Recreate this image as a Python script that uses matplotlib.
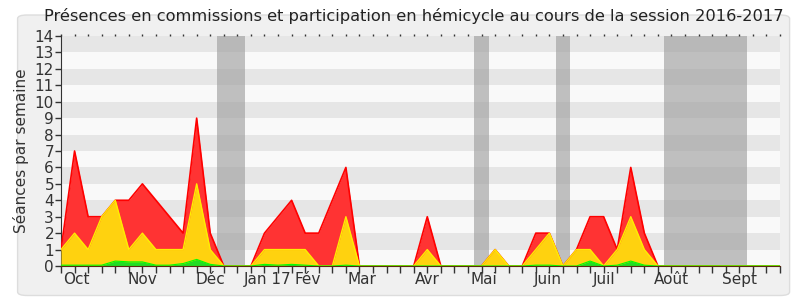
import matplotlib
matplotlib.use("Agg")
import matplotlib.pyplot as plt
from matplotlib.patches import FancyBboxPatch
import numpy as np

# week index 0..53
weeks = list(range(54))
total = [1, 7, 3, 3, 4, 4, 5, 4, 3, 2, 9, 2, 0, 0, 0, 2, 3, 4, 2, 2, 4, 6, 0, 0, 0, 0, 0, 3, 0, 0,
         0, 0, 1, 0, 0, 2, 2, 0, 1, 3, 3, 1, 6, 2, 0, 0, 0, 0, 0, 0, 0, 0, 0, 0]
hemicycle = [1, 2, 1, 3, 4, 1, 2, 1, 1, 1, 5, 1, 0, 0, 0, 1, 1, 1, 1, 0, 0, 3, 0, 0, 0, 0, 0, 1, 0, 0,
             0, 0, 1, 0, 0, 1, 2, 0, 1, 1, 0, 1, 3, 1, 0, 0, 0, 0, 0, 0, 0, 0, 0, 0]
commissions = [0.05, 0.05, 0.05, 0.05, 0.3, 0.25, 0.25, 0.05, 0.05, 0.15, 0.4, 0.1, 0, 0, 0, 0.1, 0.05, 0.1,
               0.05, 0, 0, 0.05, 0, 0, 0, 0, 0, 0, 0, 0, 0, 0, 0, 0, 0, 0.05, 0.05, 0, 0, 0.3, 0, 0.05, 0.3, 0.05,
               0, 0, 0, 0, 0, 0, 0, 0, 0, 0]
vacations = [(11.5, 13.57), (30.46, 31.56), (36.5, 37.54), (44.47, 50.6)]
month_pos = [1.1, 6, 11, 15.2, 18.2, 22.2, 27, 31.2, 35.9, 40, 45, 50]
month_labels = ["Oct", "Nov", "Déc", "Jan 17", "Fév", "Mar", "Avr", "Mai", "Juin", "Juil", "Août", "Sept"]
title = "Présences en commissions et participation en hémicycle au cours de la session 2016-2017"

fig = plt.figure(figsize=(8, 3), dpi=100, facecolor="white")
bg = FancyBboxPatch((0.022, 0.015), 0.965, 0.935, boxstyle="round,pad=0,rounding_size=0.012",
                    transform=fig.transFigure, facecolor="#f0f0f0", edgecolor="#dddddd", lw=1, zorder=-10)
fig.patches.append(bg)

ax = fig.add_axes([61/800, 34/300, 719/800, 230/300])
ax.set_zorder(5)
ax.set_facecolor("#f9f9f9")
ax.set_xlim(0, 53)
ax.set_ylim(0, 14)

for k in range(1, 14, 2):
    ax.axhspan(k, k + 1, color="#e6e6e6", lw=0, zorder=0)
for a, b in vacations:
    ax.axvspan(a, b, color="#a0a0a0", alpha=0.65, lw=0, zorder=1)

x = np.array(weeks)
ax.fill_between(x, total, color="#ff3333", lw=0, zorder=2)
ax.plot(x, total, color="#ff0000", lw=1.2, zorder=3)
ax.fill_between(x, hemicycle, color="#ffd20f", lw=0, zorder=4)
ax.plot(x, hemicycle, color="#ffee00", lw=1.0, zorder=5)
ax.fill_between(x, commissions, color="#22dd22", lw=0, zorder=6)
ax.plot(x, commissions, color="#00ff00", lw=0.8, zorder=7)

ax.set_yticks(range(0, 15))
ax.tick_params(axis="y", labelsize=11, colors="#333333", length=4, width=1, pad=1)
ax.set_xticks(weeks)
ax.set_xticklabels([])
ax.tick_params(axis="x", length=5, width=1, color="#333333", top=True, direction="out")
for t in ax.xaxis.get_major_ticks():
    t.tick2line.set_markersize(1.5)
    t.tick2line.set_color("#222222")

for p, lab in zip(month_pos, month_labels):
    ax.text(p, -0.025, lab, transform=ax.get_xaxis_transform(), ha="center", va="top",
            fontsize=11, color="#333333")

for s in ["top", "right"]:
    ax.spines[s].set_visible(False)
ax.spines["left"].set_color("#333333")
ax.spines["bottom"].set_color("#5a2a10")
ax.spines["bottom"].set_zorder(8)

ax.set_ylabel("Séances par semaine", fontsize=11, color="#333333", labelpad=4)
fig.text(0.5175, 0.947, title, ha="center", va="center", fontsize=11.7, color="#222222")

fig.savefig("out.png", dpi=100, facecolor="white")
